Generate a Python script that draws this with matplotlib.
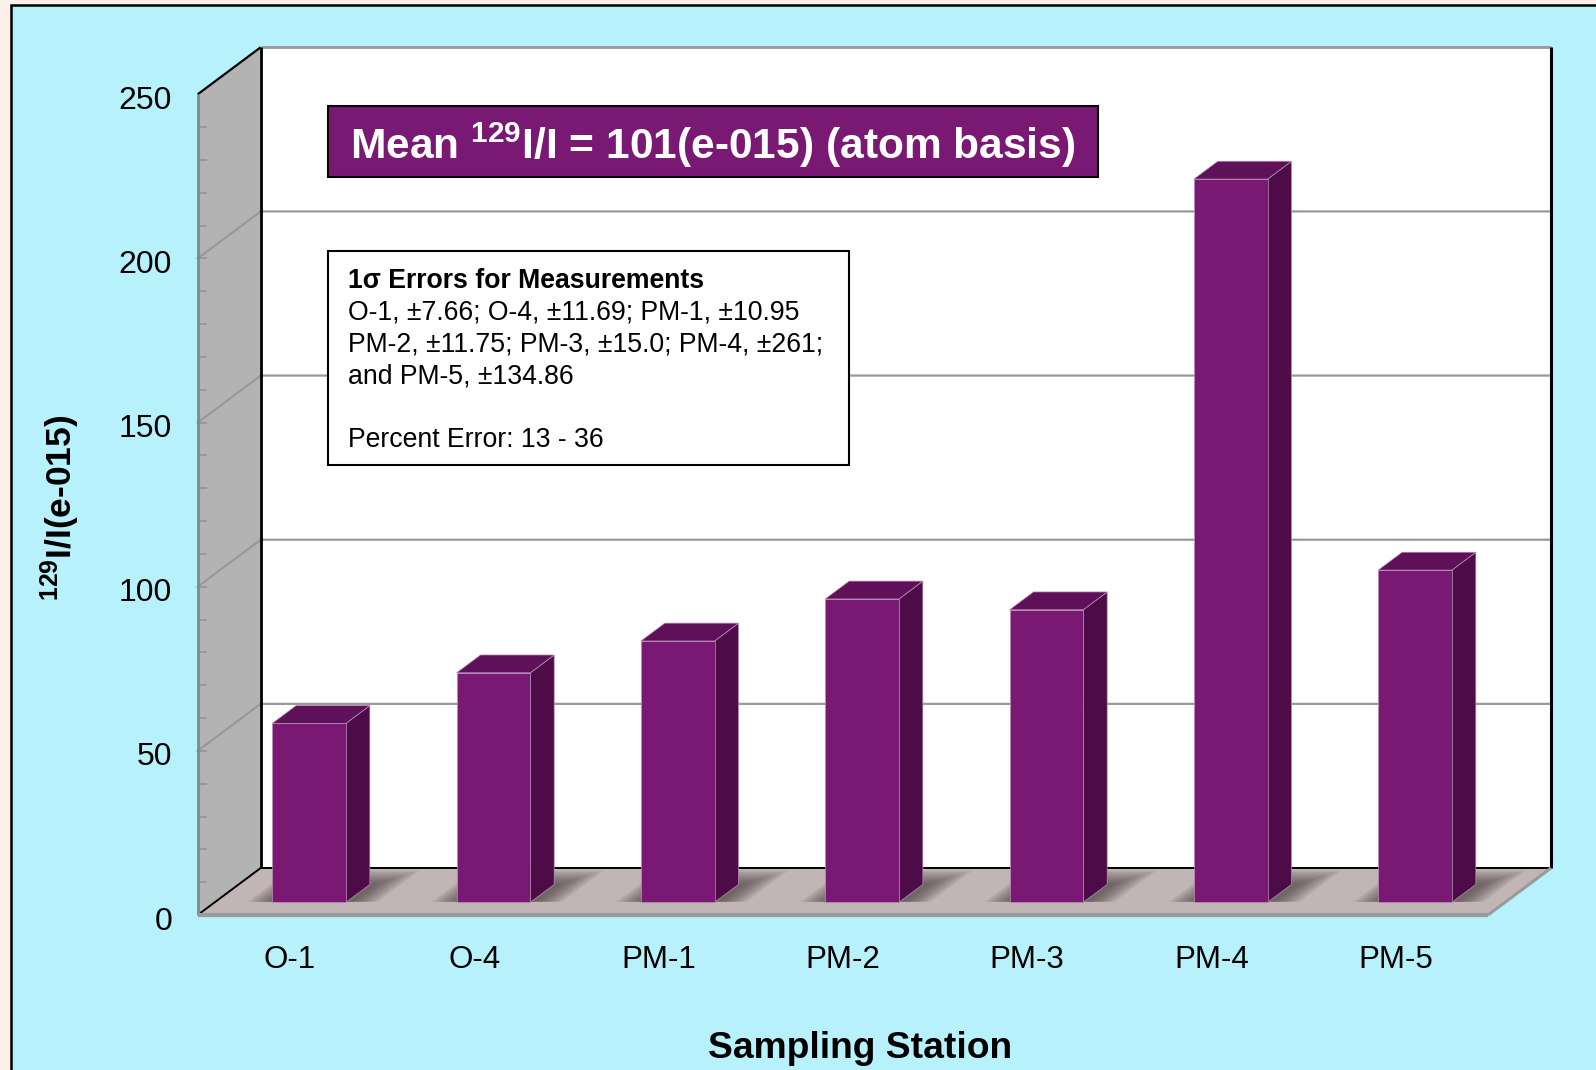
import matplotlib.pyplot as plt
from matplotlib.patches import Polygon, Rectangle
import matplotlib.transforms as mtransforms
import numpy as np

plt.rcParams['font.family'] = ['Liberation Sans', 'DejaVu Sans']
plt.rcParams['mathtext.fontset'] = 'custom'
plt.rcParams['mathtext.rm'] = 'Liberation Sans'
plt.rcParams['mathtext.bf'] = 'Liberation Sans:bold'
plt.rcParams['mathtext.default'] = 'bf'

# 129I/I ratio per sampling station (x 1e-15)
stations = ['O-1', 'O-4', 'PM-1', 'PM-2', 'PM-3', 'PM-4', 'PM-5']
ratios = [54.5, 69.9, 79.6, 92.4, 89.1, 220.3, 101.2]
y_ticks = [0, 50, 100, 150, 200, 250]
minor_ticks = list(range(10, 250, 10))

mean_title = r'Mean $^{129}$I/I = 101(e-015) (atom basis)'
err_title = '1σ Errors for Measurements'
err_lines = ['O-1, ±7.66; O-4, ±11.69; PM-1, ±10.95',
             'PM-2, ±11.75; PM-3, ±15.0; PM-4, ±261;',
             'and PM-5, ±134.86',
             '',
             'Percent Error: 13 - 36']

# depth of the 3d box in data units (x: category slots, y: values)
DX = 0.3416
DY = 14.32
BAR_D0, BAR_D1 = 0.27, 0.65
BAR_LEFT, BAR_W = 0.312, 0.40

purple = '#7A1974'
purple_top = '#5E1158'
purple_side = '#4D0C47'


def proj(x, v, d):
    return x + d * DX, v + d * DY


fig = plt.figure(figsize=(15.96, 10.70), dpi=100)
fig.patch.set_facecolor('#FDF0EB')
fig.patches.append(Rectangle((11 / 1596, -0.1), 1.2, 1.1 - 5 / 1070,
                             transform=fig.transFigure, facecolor='#B7F1FC',
                             edgecolor='black', linewidth=1.8, zorder=-10))

ax = fig.add_axes([197.7 / 1596, 155 / 1070, 1290.3 / 1596, 820.7 / 1070])
ax.set_xlim(0, len(stations))
ax.set_ylim(0, 250)
ax.patch.set_visible(False)
for s in ax.spines.values():
    s.set_visible(False)

n = len(stations)
top = y_ticks[-1]


def poly(pts, **kw):
    p = Polygon(pts, closed=True, clip_on=False, **kw)
    ax.add_patch(p)
    return p


# back wall
poly([proj(0, 0, 1), proj(n, 0, 1), proj(n, top, 1), proj(0, top, 1)],
     facecolor='white', edgecolor='none', zorder=1)
# side wall
poly([proj(0, 0, 0), proj(0, 0, 1), proj(0, top, 1), proj(0, top, 0)],
     facecolor='#B3B3B3', edgecolor='none', zorder=1)

# gridlines on back and side walls
for v in y_ticks[1:-1]:
    xs, ys = zip(proj(0, v, 0), proj(0, v, 1), proj(n, v, 1))
    ax.plot(xs, ys, color='#999999', lw=1.6, zorder=2, clip_on=False)

# minor ticks on the front edge of the side wall
for v in minor_ticks:
    ax.plot([0, 0.045], [v, v], color='#999999', lw=1.4, zorder=2, clip_on=False)

# floor
poly([proj(0, 0, 0), proj(n, 0, 0), proj(n, 0, 1), proj(0, 0, 1)],
     facecolor='#C1B5B5', edgecolor='none', zorder=3)

# wall / floor outlines
def edge(p, q, color, lw, z=4):
    ax.plot([p[0], q[0]], [p[1], q[1]], color=color, lw=lw, zorder=z,
            clip_on=False, solid_capstyle='butt')


edge(proj(0, top, 0), proj(0, top, 1), 'black', 1.6)
edge(proj(0, top, 1), proj(n, top, 1), '#999999', 2.0)
edge(proj(n, top, 1), proj(n, 0, 1), 'black', 2.2)
edge(proj(0, 0, 1), proj(n, 0, 1), 'black', 1.4)
edge(proj(0, 0, 1), proj(0, top, 1), 'black', 2.0)
edge(proj(0, 0, 0), proj(0, 0, 1), 'black', 1.4)
edge(proj(0, 0, 0), proj(0, top, 0), '#7F8A8C', 2.0)
edge(proj(0, 0, 0), proj(n, 0, 0), '#999A9C', 3.0)
edge(proj(n, 0, 0), proj(n, 0, 1), '#999A9C', 2.2)

# bars with soft floor shadows
for i, v in enumerate(ratios):
    x0 = i + BAR_LEFT + BAR_D0 * DX
    x1 = x0 + BAR_W
    h0 = BAR_D0 * DY
    sx, sy = (BAR_D1 - BAR_D0) * DX, (BAR_D1 - BAR_D0) * DY

    for k in range(9):
        m = 0.01 + k * 0.016
        md = 0.02 + k * 0.035
        fx0, fx1 = i + BAR_LEFT - m, i + BAR_LEFT + BAR_W + m + 0.03
        fd0, fd1 = BAR_D0 + 0.01, min(BAR_D1 + md, 0.99)
        poly([proj(fx0, 0, fd0), proj(fx1, 0, fd0),
              proj(fx1, 0, fd1), proj(fx0, 0, fd1)],
             facecolor='#3A3030', edgecolor='none', alpha=0.09, zorder=5)

    poly([(x1, h0), (x1 + sx, h0 + sy), (x1 + sx, v + h0 + sy), (x1, v + h0)],
         facecolor=purple_side, edgecolor='#B990B5', lw=0.5, zorder=6)
    poly([(x0, v + h0), (x1, v + h0), (x1 + sx, v + h0 + sy), (x0 + sx, v + h0 + sy)],
         facecolor=purple_top, edgecolor='#B990B5', lw=0.5, zorder=6)
    ax.add_patch(Rectangle((x0, h0), BAR_W, v, facecolor=purple,
                           edgecolor='#B990B5', lw=0.5, zorder=7, clip_on=False))

# axis labels
ax.set_yticks(y_ticks)
ax.set_yticklabels([str(t) for t in y_ticks], fontsize=23)
ax.set_xticks(np.arange(n) + 0.5)
ax.set_xticklabels(stations, fontsize=22.5)
ax.tick_params(axis='y', length=0, pad=18.5)
ax.tick_params(axis='x', length=0, pad=21.5)
shift = mtransforms.ScaledTranslation(0, -3 / 100, fig.dpi_scale_trans)
for lab in ax.get_yticklabels():
    lab.set_transform(lab.get_transform() + shift)

fig.text(860 / 1596, 1 - 1058 / 1070, 'Sampling Station', fontsize=26.8,
         fontweight='bold', ha='center', va='baseline')
fig.text(60 / 1596, 1 - 508 / 1070, r'$^{129}$I/I(e-015)', fontsize=25.5,
         fontweight='bold', rotation=90, ha='center', va='center')

# mean ratio banner
fig.patches.append(Rectangle((328 / 1596, 1 - 177 / 1070), 770 / 1596, 71 / 1070,
                             transform=fig.transFigure, facecolor=purple,
                             edgecolor='black', lw=1.5, zorder=20))
fig.text(713 / 1596, 1 - 145 / 1070, mean_title, fontsize=30.6, color='white',
         fontweight='bold', ha='center', va='center', zorder=21)

# measurement error box
fig.patches.append(Rectangle((328 / 1596, 1 - 465 / 1070), 521 / 1596, 214 / 1070,
                             transform=fig.transFigure, facecolor='white',
                             edgecolor='black', lw=1.5, zorder=20))
fig.text(348 / 1596, 1 - 288 / 1070, err_title, fontsize=19.2,
         fontweight='bold', ha='left', va='baseline', zorder=21)
for j, line in enumerate(err_lines):
    fig.text(348 / 1596, 1 - (319.5 + 31.8 * j) / 1070, line, fontsize=19.2,
             ha='left', va='baseline', zorder=21)

fig.savefig('out.png', dpi=100, facecolor=fig.get_facecolor())
